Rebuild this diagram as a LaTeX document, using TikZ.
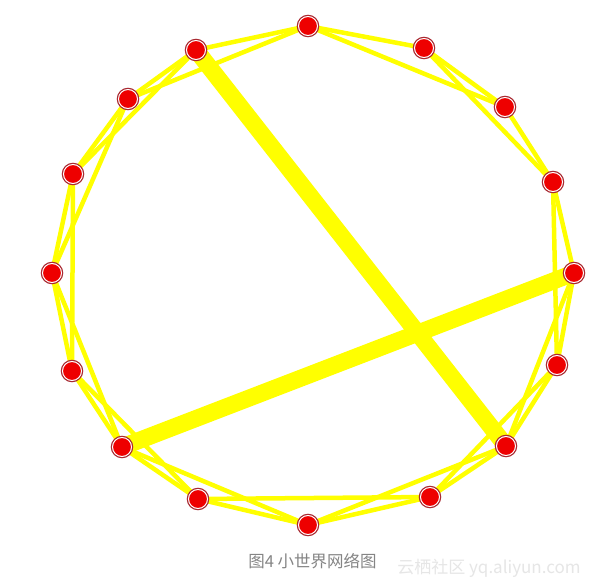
\documentclass[tikz,border=0pt]{standalone}
\usepackage{fontspec}
\newfontfamily\cjk{Noto Sans CJK SC}
\usetikzlibrary{backgrounds}
\definecolor{nodered}{HTML}{EE0000}
\definecolor{ringred}{HTML}{A82830}
\definecolor{edgeyellow}{HTML}{FFFF00}
\definecolor{captiongray}{HTML}{858585}
\definecolor{markgray}{HTML}{E6E6E6}
\begin{document}
\begin{tikzpicture}[x=1pt,y=-1pt,
  vertex/.style={circle, minimum size=19pt, inner sep=0pt, fill=nodered, draw=white, line width=1pt,
    preaction={draw=ringred, line width=3.5pt}},
  link/.style={draw=edgeyellow, line width=4.5pt},
  bridge/.style={draw=edgeyellow, line width=17pt},
  captiontext/.style={font=\cjk\fontsize{16.5}{18}\selectfont, text=captiongray, inner sep=0pt},
  watermarktext/.style={font=\cjk\fontsize{17}{19}\selectfont, text=markgray, inner sep=0pt}]
\useasboundingbox (0,0) rectangle (598,588);
% nodes
\node[vertex] (n1) at (308,26) {};
\node[vertex] (n2) at (424,48) {};
\node[vertex] (n3) at (505,107) {};
\node[vertex] (n4) at (553,182) {};
\node[vertex] (n5) at (574,273) {};
\node[vertex] (n6) at (557,365) {};
\node[vertex] (n7) at (506,446) {};
\node[vertex] (n8) at (430,497) {};
\node[vertex] (n9) at (308,525) {};
\node[vertex] (n10) at (198,499) {};
\node[vertex] (n11) at (122,447) {};
\node[vertex] (n12) at (72,371) {};
\node[vertex] (n13) at (52,273) {};
\node[vertex] (n14) at (73,174) {};
\node[vertex] (n15) at (128,99) {};
\node[vertex] (n16) at (196,50) {};
\begin{scope}[on background layer]
  \fill[white] (0,0) rectangle (598,588);
  % nearest neighbours
  \foreach \a/\b in {1/2,2/3,3/4,4/5,5/6,6/7,7/8,8/9,9/10,10/11,11/12,12/13,13/14,14/15,15/16,16/1}
    \draw[link] (n\a.center) -- (n\b.center);
  % second neighbours
  \foreach \a/\b in {1/3,2/4,4/6,5/7,6/8,7/9,8/10,9/11,10/12,11/13,12/14,13/15,14/16,15/1}
    \draw[link] (n\a.center) -- (n\b.center);
  % shortcuts
  \draw[bridge] (n16.center) -- (n7.center);
  \draw[bridge] (n11.center) -- (n5.center);
\end{scope}
\node[captiontext] (cap) at (312.5,561) {图4 小世界网络图};
\node[watermarktext] (wm) at (489,568) {云栖社区 yq.aliyun.com};
\end{tikzpicture}
\end{document}
